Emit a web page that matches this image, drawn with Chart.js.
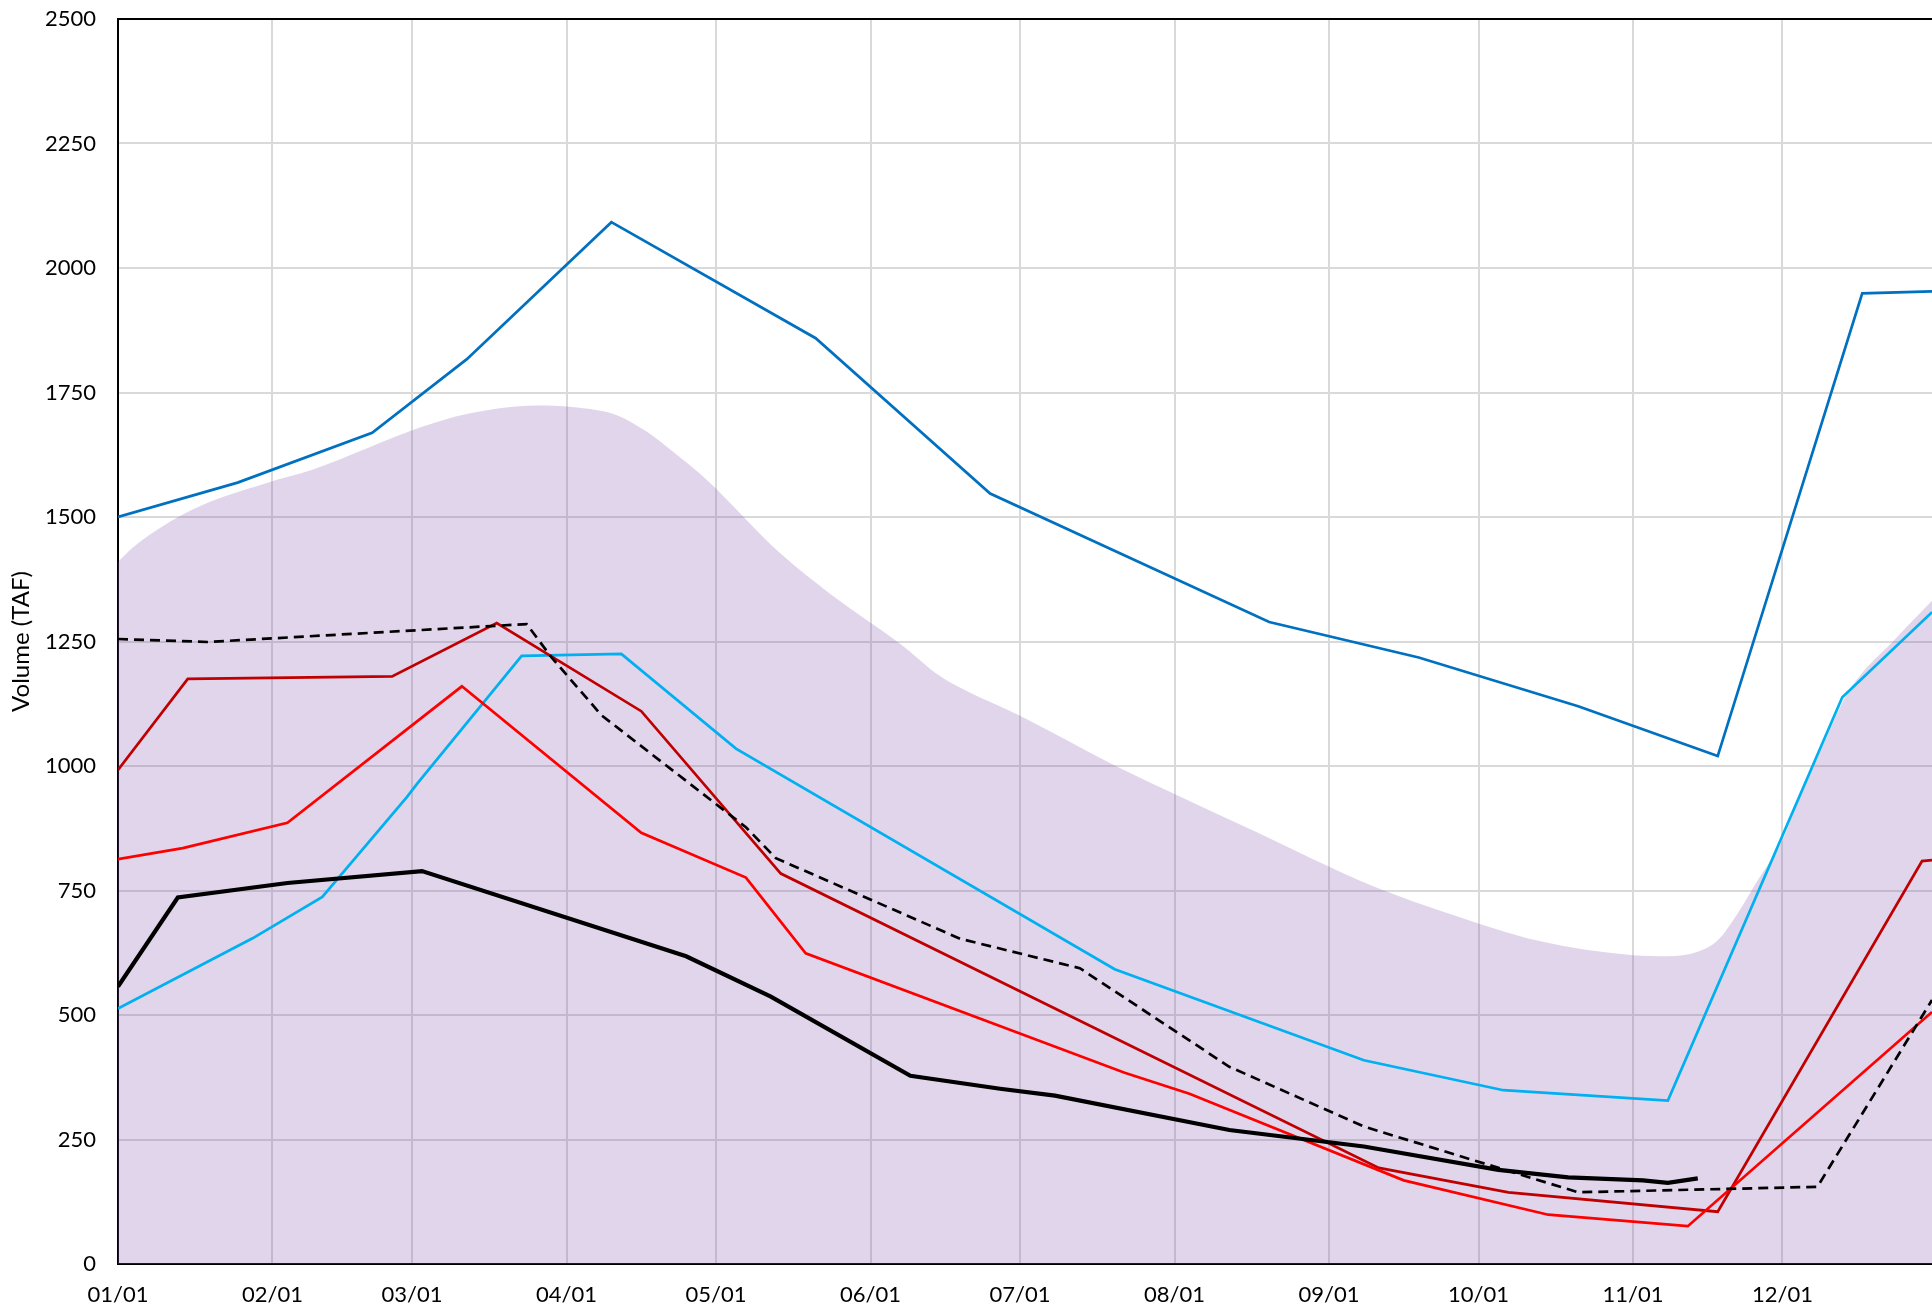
<!DOCTYPE html>
<html>
<head>
<meta charset="utf-8">
<script src="https://cdn.jsdelivr.net/npm/chart.js@4.4.1/dist/chart.umd.min.js"></script>
<style>
  html, body { margin: 0; padding: 0; background: #fff; overflow: hidden; }
  #wrap { width: 1932px; height: 1309px; }
</style>
</head>
<body>
<div id="wrap"><canvas id="chart"></canvas></div>
<script>
// x axis: day of year (0 = 01/01), tick at the first of each month
const monthStarts = [0, 31, 59, 90, 120, 151, 181, 212, 243, 273, 304, 334];
const monthLabels = ['01/01', '02/01', '03/01', '04/01', '05/01', '06/01',
                     '07/01', '08/01', '09/01', '10/01', '11/01', '12/01'];

// shaded range
const rangeDays = [0, 3, 15, 30, 39, 61, 70, 84, 93, 100, 106, 112, 118, 133, 143, 157, 165, 170, 181,
                   200, 212, 227, 252, 267, 285, 304, 311, 317, 321, 325, 329, 334, 337, 342, 347, 357, 364];
const rangeVals = [1410, 1439, 1515, 1569, 1595, 1681, 1707, 1724, 1719, 1705, 1672, 1626, 1576, 1426, 1345, 1245, 1180, 1152, 1101,
                   1001, 944, 874, 758, 704, 649, 620, 618, 627, 650, 704, 770, 851, 927, 1038, 1145, 1259, 1332];

const darkBlueDays = [0, 24, 51, 70, 99, 140, 175, 231, 261, 293, 321, 350, 364];
const darkBlueVals = [1500, 1569, 1669, 1817, 2092, 1859, 1547, 1289, 1218, 1120, 1020, 1949, 1953];

const lightBlueDays = [0, 27, 41, 58, 60, 81, 101, 124, 200, 250, 278, 311, 346, 364];
const lightBlueVals = [513, 654, 737, 938, 964, 1221, 1225, 1035, 592, 409, 349, 328, 1138, 1309];

const darkRedDays = [0, 14, 55, 76, 105, 133, 253, 279, 321, 362, 364];
const darkRedVals = [992, 1175, 1180, 1287, 1110, 784, 193, 144, 105, 809, 811];

const redDays = [0, 13, 34, 69, 105, 126, 138, 202, 215, 258, 287, 315, 364];
const redVals = [813, 835, 886, 1160, 866, 776, 624, 384, 342, 168, 99, 76, 506];

const dashedDays = [0, 18, 82, 87, 97, 126, 132, 169, 193, 223, 250, 277, 293, 341, 364];
const dashedVals = [1255, 1249, 1285, 1218, 1102, 877, 815, 653, 594, 396, 276, 193, 144, 155, 530];

const blackDays = [0, 12, 34, 61, 114, 131, 159, 177, 188, 223, 250, 277, 291, 306, 311, 317];
const blackVals = [557, 736, 765, 789, 618, 537, 378, 352, 338, 269, 236, 189, 174, 168, 163, 172];

const yTicks = [0, 250, 500, 750, 1000, 1250, 1500, 1750, 2000, 2250, 2500];

function pts(days, vals) {
  return days.map((d, i) => ({ x: d, y: vals[i] }));
}

const tickFont = { family: 'Lato, "Open Sans", sans-serif', size: 22 };
const titleFont = { family: 'Lato, "Open Sans", sans-serif', size: 24 };

new Chart(document.getElementById('chart').getContext('2d'), {
  type: 'line',
  data: {
    datasets: [
      {
        data: pts(rangeDays, rangeVals),
        fill: 'origin',
        backgroundColor: 'rgba(135, 87, 175, 0.25)',
        borderWidth: 0,
        cubicInterpolationMode: 'monotone',
        order: 10
      },
      { data: pts(darkBlueDays, darkBlueVals), borderColor: '#0070C0', borderWidth: 2.7, order: 6 },
      { data: pts(lightBlueDays, lightBlueVals), borderColor: '#00B0F0', borderWidth: 2.7, order: 5 },
      { data: pts(darkRedDays, darkRedVals), borderColor: '#C00000', borderWidth: 2.7, order: 4 },
      { data: pts(redDays, redVals), borderColor: '#FF0000', borderWidth: 2.7, order: 3 },
      { data: pts(dashedDays, dashedVals), borderColor: '#000000', borderWidth: 2.7, borderDash: [10, 6], order: 2 },
      { data: pts(blackDays, blackVals), borderColor: '#000000', borderWidth: 4.2, order: 1 }
    ]
  },
  options: {
    responsive: true,
    maintainAspectRatio: false,
    animation: false,
    devicePixelRatio: 1,
    elements: { point: { radius: 0 }, line: { tension: 0, fill: false } },
    layout: { padding: { top: 19, right: 0, bottom: 0, left: 0 } },
    plugins: { legend: { display: false }, tooltip: { enabled: false } },
    scales: {
      x: {
        type: 'linear',
        min: 0,
        max: 364,
        afterBuildTicks: axis => { axis.ticks = monthStarts.map(v => ({ value: v })); },
        afterFit: axis => { axis.height = 45; axis.paddingLeft = 0; axis.paddingRight = 0; },
        ticks: {
          autoSkip: false,
          maxRotation: 0,
          padding: 18,
          color: '#000',
          font: tickFont,
          callback: v => monthLabels[monthStarts.indexOf(v)]
        },
        grid: { color: '#d9d9d9', lineWidth: 2, drawTicks: false },
        border: { color: '#000', width: 2 }
      },
      y: {
        min: 0,
        max: 2500,
        afterBuildTicks: axis => { axis.ticks = yTicks.map(v => ({ value: v })); },
        afterFit: axis => { axis.width = 118; axis.paddingTop = 0; axis.paddingBottom = 0; },
        ticks: { padding: 22, color: '#000', font: tickFont, callback: v => String(v) },
        grid: {
          color: c => (c.tick && c.tick.value === 2500 ? '#000' : '#d9d9d9'),
          lineWidth: 2,
          drawTicks: false
        },
        border: { color: '#000', width: 2 },
        title: {
          display: true,
          text: 'Volume (TAF)',
          color: '#000',
          font: titleFont,
          padding: { top: 7, bottom: 0 }
        }
      }
    }
  }
});
</script>
</body>
</html>
